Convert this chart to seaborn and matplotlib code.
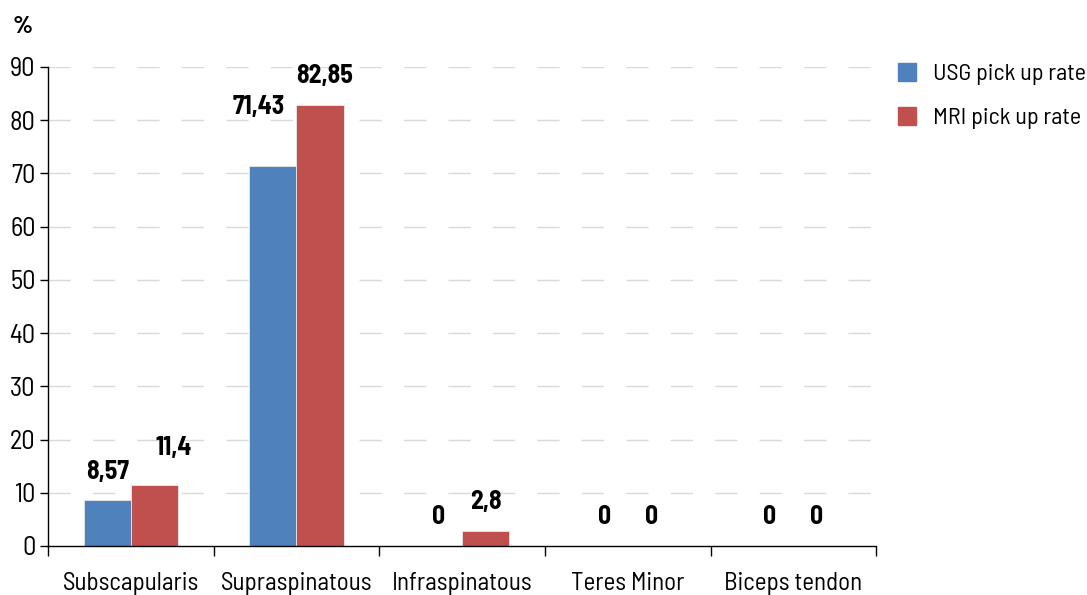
import numpy as np
import pandas as pd
import matplotlib
matplotlib.use("Agg")
import matplotlib.pyplot as plt
import seaborn as sns

# data
categories = ["Subscapularis", "Supraspinatous", "Infraspinatous", "Teres Minor", "Biceps tendon"]
usg_rate = [8.57, 71.43, 0, 0, 0]
mri_rate = [11.4, 82.85, 2.8, 0, 0]
series_names = ["USG pick up rate", "MRI pick up rate"]
y_ticks = [0, 10, 20, 30, 40, 50, 60, 70, 80, 90]

colors = ["#4F81BD", "#C0504D"]

df = pd.DataFrame({
    "category": categories * 2,
    "rate": usg_rate + mri_rate,
    "series": [series_names[0]] * len(categories) + [series_names[1]] * len(categories),
})

sns.set_style("white")
plt.rcParams["font.family"] = ["Barlow Semi Condensed", "Roboto Condensed", "Archivo Narrow", "DejaVu Sans"]
plt.rcParams["text.color"] = "black"
plt.rcParams["xtick.color"] = "black"
plt.rcParams["ytick.color"] = "black"

fig = plt.figure(figsize=(10.87, 5.95), dpi=100)
ax = fig.add_axes([0.0442, 0.0824, 0.7618, 0.8050])

sns.barplot(data=df, x="category", y="rate", hue="series", palette=colors, saturation=1,
            width=0.57, edgecolor="#e8e8e8", linewidth=0.6, ax=ax, legend=False)

ax.set_ylim(0, 90)
ax.set_xlim(-0.5, len(categories) - 0.5)
ax.set_yticks(y_ticks)
ax.set_ylabel("")
ax.set_xlabel("")

# dashed gridlines
for t in y_ticks[1:]:
    ax.axhline(t, color="#d9d9d9", lw=1, ls=(0, (16, 16)), zorder=0)

for side in ["top", "right"]:
    ax.spines[side].set_visible(False)
for side in ["left", "bottom"]:
    ax.spines[side].set_color("black")
    ax.spines[side].set_linewidth(1)

ax.tick_params(axis="y", length=6, width=1, color="black", labelsize=19, pad=3, left=True)
ax.tick_params(axis="x", which="major", length=0, labelsize=18, pad=19)
ax.set_xticks(np.arange(-0.5, len(categories)), minor=True)
ax.tick_params(axis="x", which="minor", length=7, width=1, color="black", bottom=True)

# value labels (a couple are nudged like in the original to avoid overlap)
def fmt(v):
    return f"{v:g}".replace(".", ",")

nudges = {(0, 1): (-10, 34), (1, 0): (14, 18), (1, 1): (3, 12)}

for si, container in enumerate(ax.containers):
    for ci, bar in enumerate(container):
        h = bar.get_height()
        x = bar.get_x() + bar.get_width() / 2
        dx, dy = nudges.get((si, ci), (0, 12))
        ax.annotate(fmt(h), (x, h), xytext=(dx, dy), textcoords="offset points",
                    ha="center", va="bottom", fontsize=18.5, fontweight="bold")

fig.text(0.012, 0.955, "%", fontsize=18, fontweight="bold", ha="left", va="center")

handles = [plt.Rectangle((0, 0), 1, 1, color=c) for c in colors]
fig.legend(handles, series_names, loc="upper left", bbox_to_anchor=(0.806, 0.93),
           frameon=False, fontsize=17.3, handlelength=0.75, handleheight=0.75,
           handletextpad=0.7, labelspacing=0.9)

fig.savefig("out.png", dpi=100)
